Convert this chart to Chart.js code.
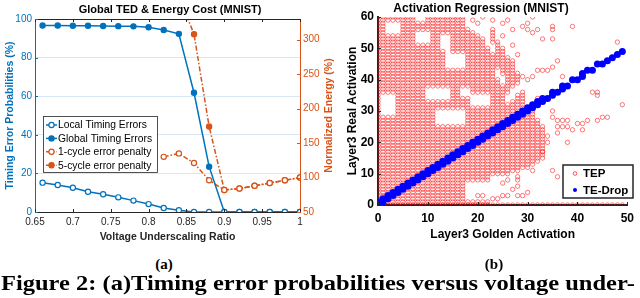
<!DOCTYPE html>
<html>
<head>
<meta charset="utf-8">
<script src="https://cdn.jsdelivr.net/npm/chart.js@4.4.1/dist/chart.umd.min.js"></script>
<style>
  html, body { margin: 0; padding: 0; background: #fff; width: 640px; height: 298px; overflow: hidden; }
  body { position: relative; }
  #chartA { position: absolute; left: 0; top: 0; }
  #chartB { position: absolute; left: 330px; top: 0; }
  .sub { position: absolute; top: 257px; width: 40px; text-align: center; font: bold 15px "Liberation Serif", serif; line-height: 15px; }
  #capFig { position: absolute; left: 1px; top: 273px; font: bold 21px "Liberation Serif", serif; line-height: 21px; white-space: nowrap; transform-origin: 0 0; }
</style>
</head>
<body>
<canvas id="chartA" width="340" height="245"></canvas>
<canvas id="chartB" width="310" height="245"></canvas>
<div class="sub" style="left:144px">(a)</div>
<div class="sub" style="left:474px">(b)</div>
<div id="capFig">Figure 2: (a)Timing error probabilities versus voltage under-</div>
<script>
// ---- (a) timing errors & energy ----
const voltage = [0.66, 0.68, 0.70, 0.72, 0.74, 0.76, 0.78, 0.80, 0.82, 0.84, 0.86, 0.88, 0.90, 0.92, 0.94, 0.96, 0.98, 1.00];
const localTE = [15.2, 14.0, 12.6, 10.5, 9.2, 7.6, 5.9, 4.1, 2.1, 0.9, 0, 0, 0, 0, 0, 0, 0, 0];
const globalTE = [96.6, 96.6, 96.5, 96.5, 96.4, 96.3, 96.2, 95.7, 94.3, 92.3, 61.8, 23.5, 0, 0, 0, 0, 0, 0];
const energy1 = [null, null, null, null, null, null, null, null, 130, 135, 121, 96, 82, 84, 88, 92, 96, 100];
const energy5 = [null, null, null, null, null, null, null, null, null, 363, 308, 174, 82, 84, 88, 92, 96, 100];
const xTicksA = [0.65, 0.7, 0.75, 0.8, 0.85, 0.9, 0.95, 1];
const yTicksA = [0, 20, 40, 60, 80, 100];
const y1TicksA = [50, 100, 150, 200, 250, 300];

// ---- (b) activation regression ----
// TEP cloud read column by column: [golden, real from, real to]
const tepColumnRuns = [
  [0, 0, 60],
  [1, 0, 28], [1, 36, 60],
  [2, 0, 28], [2, 36, 54], [2, 59, 60],
  [3, 0, 28], [3, 36, 54], [3, 59, 60],
  [4, 0, 54], [4, 59, 60],
  [5, 0, 60], [6, 0, 60], [7, 0, 60],
  [8, 0, 51], [8, 56, 58],
  [9, 0, 51], [9, 56, 58],
  [10, 0, 33], [10, 38, 51], [10, 56, 60],
  [11, 0, 33], [11, 38, 60],
  [12, 0, 25], [12, 31, 33], [12, 38, 60],
  [13, 0, 25], [13, 31, 33], [13, 38, 49], [13, 55, 60],
  [14, 0, 25], [14, 31, 33], [14, 38, 43], [14, 55, 60],
  [15, 0, 25], [15, 31, 43], [15, 49, 60],
  [16, 0, 25], [16, 31, 43], [16, 49, 60],
  [17, 0, 25], [17, 31, 34], [17, 38, 43], [17, 49, 60],
  [18, 0, 1], [18, 8, 34], [18, 38, 56],
  [19, 0, 1], [19, 8, 31], [19, 36, 55],
  [20, 0, 1], [20, 8, 31], [20, 36, 54],
  [21, 0, 1], [21, 8, 31], [21, 36, 53],
  [22, 0, 1], [22, 8, 31], [22, 36, 50],
  [23, 10, 48], [23, 52, 56],
  [24, 10, 40], [24, 44, 52],
  [25, 10, 38], [25, 42, 50],
  [26, 10, 32], [26, 36, 47],
  [27, 11, 33], [27, 38, 46],
  [28, 11, 35], [28, 39, 42],
  [29, 12, 36],
  [30, 12, 29],
  [31, 13, 30],
  [32, 14, 27],
  [33, 15, 25],
];
// rows of TEP points: [real, golden from, golden to]
const tepRowRuns = [[0, 0, 49]];
// isolated TEP points: [golden, real]
const tepScatter = [
  [19, 59], [20, 58], [21, 60], [23, 59], [25, 54], [25, 58], [26, 59], [27, 51], [27, 56], [28, 48], [29, 57], [29, 41],
  [30, 56], [30, 58], [31, 55], [31, 60], [32, 56], [30, 40], [31, 41], [32, 43], [33, 43], [34, 43], [35, 44],
  [33, 53], [35, 53], [35, 56], [35, 57], [36, 46], [37, 41], [39, 57], [48, 52], [43, 36], [44, 35], [44, 36],
  [31, 32], [32, 34], [49, 32], [46, 28], [44, 27], [45, 28], [42, 27], [41, 26], [41, 24], [39, 24], [38, 25],
  [38, 27], [36, 23], [36, 25], [36, 27], [35, 28], [35, 30], [37, 25], [37, 27], [40, 26], [38, 20], [34, 20],
  [34, 22], [33, 17], [35, 11], [36, 9], [31, 11], [28, 8], [28, 9], [25, 7], [26, 8], [27, 5], [28, 6], [30, 4],
  [28, 3], [29, 3], [25, 3], [26, 3], [20, 3], [21, 3], [23, 2], [24, 2],
];
// TE-Drop points: [golden, real]
const dropPoints = [
  [0, 0], [0, 1], [1, 1], [1, 2], [2, 2], [2, 3], [3, 3], [3, 4], [4, 4], [4, 5], [5, 5], [5, 6], [6, 6], [6, 7],
  [7, 7], [7, 8], [8, 8], [8, 9], [9, 9], [9, 10], [10, 10], [10, 11], [11, 11], [11, 12], [12, 12], [12, 13],
  [13, 13], [13, 14], [14, 14], [14, 15], [15, 15], [15, 16], [16, 16], [16, 17], [17, 17], [17, 18], [18, 18],
  [18, 19], [19, 19], [19, 20], [20, 20], [20, 21], [21, 21], [21, 22], [22, 22], [22, 23], [23, 23], [23, 24],
  [24, 24], [24, 25], [25, 25], [25, 26], [26, 26], [26, 27], [27, 27], [27, 28], [28, 28], [28, 29], [29, 29],
  [29, 30], [30, 30], [30, 31], [31, 31], [31, 32], [32, 32], [32, 33], [33, 33], [33, 34], [34, 34], [35, 35],
  [35, 36], [36, 36], [37, 37], [37, 38], [38, 38], [39, 40], [40, 40], [41, 41], [41, 42], [42, 43], [43, 43],
  [44, 45], [45, 45], [46, 46], [47, 47], [48, 48], [49, 49],
];
const xTicksB = [0, 10, 20, 30, 40, 50];
const yTicksB = [0, 10, 20, 30, 40, 50, 60];

const BLUE = "#0072bd";
const ORANGE = "#d95319";
const INK = "#262626";
const GRID = "rgba(0, 114, 189, 0.16)";
const SANS = "'Liberation Sans', Arial, sans-serif";

Chart.defaults.font.family = SANS;
Chart.defaults.animation = false;

function pts(xs, ys) {
  return xs.map((x, i) => ({ x, y: ys[i] }));
}

function setTicks(list) {
  return (s) => { s.ticks = list.map((v) => ({ value: v })); };
}

// short inward tick marks, like the original figures
function inwardTicks(chart, id, edge, len, color) {
  const s = chart.scales[id];
  const a = chart.chartArea;
  const ctx = chart.ctx;
  ctx.save();
  ctx.strokeStyle = color;
  ctx.lineWidth = 1;
  ctx.beginPath();
  s.ticks.forEach((t) => {
    const p = Math.round(s.getPixelForValue(t.value)) + 0.5;
    if (edge === "bottom") { ctx.moveTo(p, a.bottom); ctx.lineTo(p, a.bottom - len); }
    if (edge === "top") { ctx.moveTo(p, a.top); ctx.lineTo(p, a.top + len); }
    if (edge === "left") { ctx.moveTo(a.left, p); ctx.lineTo(a.left + len, p); }
    if (edge === "right") { ctx.moveTo(a.right, p); ctx.lineTo(a.right - len, p); }
  });
  ctx.stroke();
  ctx.restore();
}

const decorA = {
  id: "decorA",
  afterDatasetsDraw(chart) {
    const ctx = chart.ctx;
    const a = chart.chartArea;
    ctx.save();
    ctx.strokeStyle = INK;
    ctx.lineWidth = 1;
    ctx.beginPath();
    ctx.moveTo(a.left, a.top + 0.5);
    ctx.lineTo(a.right, a.top + 0.5);
    ctx.stroke();
    ctx.restore();
    inwardTicks(chart, "x", "bottom", 3, INK);
    inwardTicks(chart, "x", "top", 3, INK);
    inwardTicks(chart, "y", "left", 3, BLUE);
    inwardTicks(chart, "y1", "right", 3, ORANGE);

    // legend box
    const x0 = 43, y0 = 116, w = 114, h = 56;
    ctx.save();
    ctx.fillStyle = "#fff";
    ctx.fillRect(x0, y0, w, h);
    ctx.strokeStyle = INK;
    ctx.lineWidth = 0.8;
    ctx.strokeRect(x0 + 0.5, y0 + 0.5, w, h);
    ctx.font = "10.3px " + SANS;
    ctx.textBaseline = "middle";
    chart.data.datasets.forEach((ds, i) => {
      const cy = y0 + 9 + i * 13.4;
      ctx.strokeStyle = ds.borderColor;
      ctx.lineWidth = 1.5;
      ctx.setLineDash(ds.borderDash || []);
      ctx.beginPath();
      ctx.moveTo(x0 + 3, cy);
      ctx.lineTo(x0 + 14, cy);
      ctx.stroke();
      ctx.setLineDash([]);
      ctx.beginPath();
      ctx.arc(x0 + 8.5, cy, 2.6, 0, Math.PI * 2);
      ctx.fillStyle = ds.pointBackgroundColor;
      ctx.fill();
      ctx.lineWidth = 1.2;
      ctx.strokeStyle = ds.pointBorderColor;
      ctx.stroke();
      ctx.fillStyle = "#000";
      ctx.fillText(ds.label, x0 + 15, cy + 0.5);
    });
    ctx.restore();

    // right axis title, reading bottom to top
    ctx.save();
    ctx.translate(329, (a.top + a.bottom) / 2);
    ctx.rotate(-Math.PI / 2);
    ctx.font = "bold 10.5px " + SANS;
    ctx.fillStyle = ORANGE;
    ctx.textAlign = "center";
    ctx.textBaseline = "middle";
    ctx.fillText("Normalized Energy (%)", 0, 0);
    ctx.restore();
  },
};

function lineSet(label, ys, color, filled, axis, dash) {
  return {
    label,
    data: pts(voltage, ys),
    yAxisID: axis,
    borderColor: color,
    borderWidth: 1.5,
    borderDash: dash,
    pointStyle: "circle",
    pointRadius: 2.6,
    pointBorderWidth: 1.2,
    pointBorderColor: color,
    pointBackgroundColor: filled ? color : "#fff",
    spanGaps: false,
  };
}

new Chart(document.getElementById("chartA"), {
  type: "line",
  data: {
    datasets: [
      lineSet("Local Timing Errors", localTE, BLUE, false, "y", []),
      lineSet("Global Timing Errors", globalTE, BLUE, true, "y", []),
      lineSet("1-cycle error penalty", energy1, ORANGE, false, "y1", [5, 2, 1.5, 2]),
      lineSet("5-cycle error penalty", energy5, ORANGE, true, "y1", [5, 2, 1.5, 2]),
    ],
  },
  options: {
    responsive: false,
    animation: false,
    plugins: {
      legend: { display: false },
      tooltip: { enabled: false },
      title: {
        display: true,
        text: "Global TED & Energy Cost (MNIST)",
        color: "#000",
        font: { size: 11, weight: "bold" },
        padding: { top: 3, bottom: 2.8 },
      },
    },
    scales: {
      x: {
        type: "linear",
        min: 0.65,
        max: 1,
        afterBuildTicks: setTicks(xTicksA),
        afterFit: (s) => { s.height = 33; },
        grid: { display: false, drawTicks: false },
        border: { color: INK, width: 1 },
        ticks: { color: INK, font: { size: 10 }, padding: 4, autoSkip: false, maxRotation: 0, callback: (v) => String(v) },
        title: { display: true, text: "Voltage Underscaling Ratio", color: INK, font: { size: 10.5, weight: "bold" }, padding: { top: 0, bottom: 2 } },
      },
      y: {
        position: "left",
        min: 0,
        max: 100,
        afterBuildTicks: setTicks(yTicksA),
        afterFit: (s) => { s.width = 35; },
        grid: { color: GRID, drawTicks: false },
        border: { color: BLUE, width: 1 },
        ticks: { color: BLUE, font: { size: 10 }, padding: 3 },
        title: { display: true, text: "Timing Error Probabilities (%)", color: BLUE, font: { size: 10.5, weight: "bold" }, padding: { top: 3.5, bottom: 0 } },
      },
      y1: {
        position: "right",
        min: 50,
        max: 330,
        afterBuildTicks: setTicks(y1TicksA),
        afterFit: (s) => { s.width = 40; },
        grid: { display: false, drawTicks: false },
        border: { color: ORANGE, width: 1 },
        ticks: { color: ORANGE, font: { size: 10 }, padding: 3 },
      },
    },
  },
  plugins: [decorA],
});

// ---- (b) ----
const tepData = [];
tepColumnRuns.forEach(([g, r0, r1]) => {
  for (let r = r0; r <= r1; r++) tepData.push({ x: g, y: r });
});
tepRowRuns.forEach(([r, g0, g1]) => {
  for (let g = g0; g <= g1; g++) tepData.push({ x: g, y: r });
});
tepScatter.forEach(([g, r]) => tepData.push({ x: g, y: r }));
const dropData = dropPoints.map(([g, r]) => ({ x: g, y: r }));

const decorB = {
  id: "decorB",
  afterDatasetsDraw(chart) {
    inwardTicks(chart, "x", "bottom", 3, INK);
    inwardTicks(chart, "y", "left", 3, INK);
    const ctx = chart.ctx;
    const x0 = 233, y0 = 165, w = 70, h = 33;
    ctx.save();
    ctx.fillStyle = "#fff";
    ctx.fillRect(x0, y0, w, h);
    ctx.strokeStyle = INK;
    ctx.lineWidth = 1.5;
    ctx.strokeRect(x0, y0, w, h);
    ctx.font = "bold 11.5px " + SANS;
    ctx.textBaseline = "middle";
    ctx.fillStyle = "#000";
    const rows = chart.data.datasets;
    rows.forEach((ds, i) => {
      const cy = y0 + 8.5 + i * 16.5;
      ctx.beginPath();
      ctx.arc(x0 + 12, cy, i === 0 ? 1.8 : 2, 0, Math.PI * 2);
      if (i === 0) {
        ctx.strokeStyle = ds.borderColor;
        ctx.lineWidth = 0.9;
        ctx.stroke();
      } else {
        ctx.fillStyle = ds.backgroundColor;
        ctx.fill();
      }
      ctx.fillStyle = "#000";
      ctx.fillText(ds.label, x0 + 20, cy + 0.5);
    });
    ctx.restore();
  },
};

new Chart(document.getElementById("chartB"), {
  type: "scatter",
  data: {
    datasets: [
      {
        label: "TEP",
        data: tepData,
        order: 1,
        pointStyle: "circle",
        pointRadius: 2.2,
        borderWidth: 0.7,
        borderColor: "rgba(255, 0, 0, 0.75)",
        backgroundColor: "rgba(255, 255, 255, 0)",
      },
      {
        label: "TE-Drop",
        data: dropData,
        order: 0,
        pointStyle: "circle",
        pointRadius: 3.5,
        borderWidth: 0,
        borderColor: "#0000ff",
        backgroundColor: "#0000ff",
      },
    ],
  },
  options: {
    responsive: false,
    animation: false,
    layout: { padding: { right: 8 } },
    plugins: {
      legend: { display: false },
      tooltip: { enabled: false },
      title: {
        display: true,
        text: "Activation Regression (MNIST)",
        color: "#000",
        font: { size: 12, weight: "bold" },
        padding: { top: 1.3, bottom: 1.3 },
      },
    },
    scales: {
      x: {
        type: "linear",
        min: 0,
        max: 50,
        afterBuildTicks: setTicks(xTicksB),
        afterFit: (s) => { s.height = 40; },
        grid: { display: false, drawTicks: false },
        border: { color: INK, width: 2 },
        ticks: { color: "#000", font: { size: 12, weight: "bold" }, padding: 6, maxRotation: 0 },
        title: { display: true, text: "Layer3 Golden Activation", color: "#000", font: { size: 12, weight: "bold" }, padding: { top: 0, bottom: 3 } },
      },
      y: {
        min: 0,
        max: 60,
        afterBuildTicks: setTicks(yTicksB),
        afterFit: (s) => { s.width = 48; },
        grid: { display: false, drawTicks: false },
        border: { color: INK, width: 2 },
        ticks: { color: "#000", font: { size: 12, weight: "bold" }, padding: 4 },
        title: { display: true, text: "Layer3 Real Activation", color: "#000", font: { size: 12, weight: "bold" }, padding: { top: 15, bottom: 0 } },
      },
    },
  },
  plugins: [decorB],
});

// stretch the caption line to the column width
const cap = document.getElementById("capFig");
cap.style.transform = "scaleX(" + (634 / cap.getBoundingClientRect().width) + ")";
</script>
</body>
</html>
